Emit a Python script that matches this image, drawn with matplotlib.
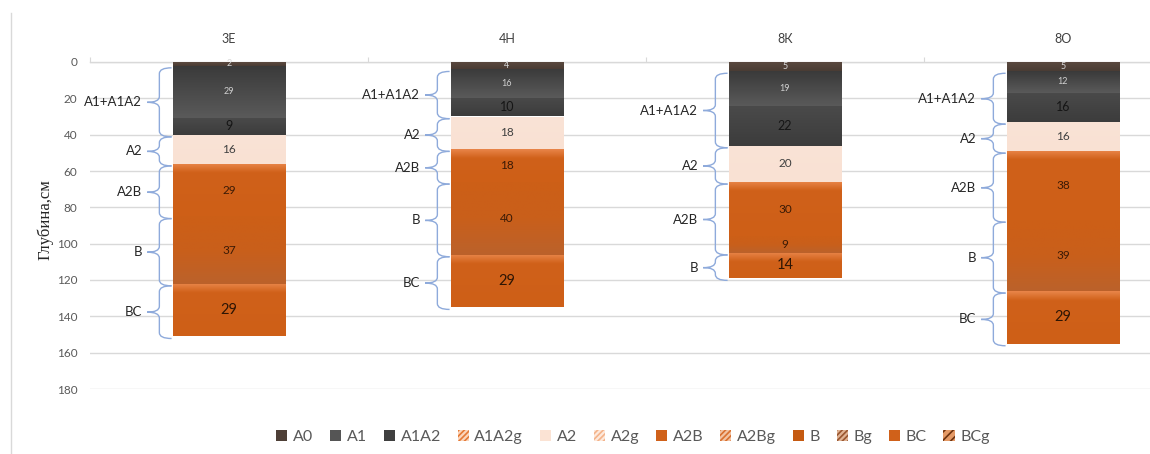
import numpy as np
import matplotlib
matplotlib.use("Agg")
import matplotlib.pyplot as plt
from matplotlib.patches import Patch, PathPatch
from matplotlib.path import Path
from matplotlib.lines import Line2D
from matplotlib.colors import to_rgb

plt.rcParams['font.family'] = ['Lato', 'DejaVu Sans']

# ---- data -------------------------------------------------------------
profiles = ['3Е', '4Н', '8К', '8О']

horizons = ['A0', 'A1', 'A1A2', 'A2', 'A2B', 'B', 'BC']
A0 = [2, 4, 5, 5]
A1 = [29, 16, 19, 12]
A1A2 = [9, 10, 22, 16]
A2 = [16, 18, 20, 16]
A2B = [29, 18, 30, 38]
B = [37, 40, 9, 39]
BC = [29, 29, 14, 29]

legend_names = ['A0', 'A1', 'A1A2', 'A1A2g', 'A2', 'A2g',
                'A2B', 'A2Bg', 'B', 'Bg', 'BC', 'BCg']

# horizon groups marked with a brace: (label, layers covered)
braces_3E = [('A1+A1A2', ['A1', 'A1A2']), ('A2', ['A2']), ('A2B', ['A2B']),
             ('B', ['B']), ('BC', ['BC'])]
braces_4N = [('A1+A1A2', ['A1', 'A1A2']), ('A2', ['A2']), ('A2B', ['A2B']),
             ('B', ['B']), ('BC', ['BC'])]
braces_8K = [('A1+A1A2', ['A1', 'A1A2']), ('A2', ['A2']), ('A2B', ['A2B', 'B']),
             ('B', ['BC'])]
braces_8O = [('A1+A1A2', ['A1', 'A1A2']), ('A2', ['A2']), ('A2B', ['A2B']),
             ('B', ['B']), ('BC', ['BC'])]
brace_sets = [braces_3E, braces_4N, braces_8K, braces_8O]

values = {'A0': A0, 'A1': A1, 'A1A2': A1A2, 'A2': A2,
          'A2B': A2B, 'B': B, 'BC': BC}

# ---- styles -------------------------------------------------------------
base_color = {'A0': '#54443b', 'A1': '#4a4a4a', 'A1A2': '#424242',
              'A2': '#fae3d6', 'A2B': '#d0611a', 'B': '#cb5f19', 'BC': '#d0611a'}


def gradient_stops(name, h):
    band = min(0.5, 5.0 / h)
    if name == 'A1':
        return [(0, '#3a3a3a'), (1, '#5a5a5a')]
    if name == 'A1A2':
        return [(0, '#4a4a4a'), (1, '#3c3c3c')]
    if name == 'A0':
        return [(0, '#5c4a40'), (1, '#4a3c34')]
    if name == 'A2':
        return [(0, '#fae3d6'), (1, '#f9e1d3')]
    if name in ('A2B', 'BC'):
        return [(0, '#e98549'), (band, '#d0611a'), (1, '#ce5f17')]
    if name == 'B':
        return [(0, '#cd5f17'), (0.5, '#c95f1b'), (1, '#bb622b')]
    return [(0, base_color[name]), (1, base_color[name])]


label_style = {'A0': (6.5, '#d8d8d8'), 'A1': (6.5, '#d0d0d0'),
               'A1A2': (9, '#151515'), 'A2': (8.5, '#404040'),
               'A2B': (8.5, '#3a1a06'), 'B': (8.5, '#3a1a06'),
               'BC': (10.5, '#2e1504')}

legend_style = {
    'A0': dict(facecolor='#4e3f37'),
    'A1': dict(facecolor='#555555'),
    'A1A2': dict(facecolor='#3f3f3f'),
    'A1A2g': dict(facecolor='#fbd6bd', edgecolor='#e57a36', hatch='//////'),
    'A2': dict(facecolor='#fbe3d4'),
    'A2g': dict(facecolor='#fde9dc', edgecolor='#f4b38a', hatch='//////'),
    'A2B': dict(facecolor='#d0611a'),
    'A2Bg': dict(facecolor='#f2c3a3', edgecolor='#d9702f', hatch='//////'),
    'B': dict(facecolor='#c55a11'),
    'Bg': dict(facecolor='#e0b394', edgecolor='#995630', hatch='//////'),
    'BC': dict(facecolor='#d0611a'),
    'BCg': dict(facecolor='#e59a66', edgecolor='#6e320e', hatch='////'),
}

BRACE_COLOR = '#8eaadb'
GRID_COLOR = '#d9d9d9'
TEXT_COLOR = '#404040'

# ---- figure -------------------------------------------------------------
W, H = 1150, 454
fig = plt.figure(figsize=(W / 100, H / 100), dpi=100)
ax = fig.add_axes([90 / W, (H - 389) / H, (1202 - 90) / W, (389 - 62) / H])

x = np.arange(len(profiles))
bar_w = 0.405
bottom = np.zeros(len(profiles))
seg_top = {}


def gradient_image(stops, n=96):
    pos = np.array([s[0] for s in stops])
    cols = np.array([to_rgb(s[1]) for s in stops])
    t = np.linspace(0, 1, n)
    img = np.stack([np.interp(t, pos, cols[:, k]) for k in range(3)], axis=-1)
    return img[:, None, :]


for name in horizons:
    vals = np.array(values[name], dtype=float)
    bars = ax.bar(x, vals, bar_w, bottom=bottom, color=base_color[name],
                  linewidth=0, zorder=2)
    seg_top[name] = bottom.copy()
    for rect, v, b0 in zip(bars, vals, bottom):
        if v <= 0:
            continue
        x0, w = rect.get_x(), rect.get_width()
        im = ax.imshow(gradient_image(gradient_stops(name, v)),
                       extent=(x0, x0 + w, b0 + v, b0), origin='upper',
                       aspect='auto', interpolation='bilinear', zorder=3)
        im.set_clip_path(rect)
        size, col = label_style[name]
        ax.text(rect.get_x() + w / 2, b0 + v / 2, f'{int(v)}',
                ha='center', va='center', fontsize=size, color=col, zorder=5)
    bottom = bottom + vals


# ---- braces -------------------------------------------------------------
def draw_brace(ax, xr, y0, y1, width, r=3.2):
    xs = xr - width / 2
    xt = xr - width
    ym = (y0 + y1) / 2
    r = min(r, (y1 - y0) / 4)
    verts = [(xr, y0), (xs, y0), (xs, y0 + r), (xs, ym - r),
             (xs, ym), (xt, ym), (xs, ym), (xs, ym + r),
             (xs, y1 - r), (xs, y1), (xr, y1)]
    codes = [Path.MOVETO, Path.CURVE3, Path.CURVE3, Path.LINETO,
             Path.CURVE3, Path.CURVE3, Path.CURVE3, Path.CURVE3,
             Path.LINETO, Path.CURVE3, Path.CURVE3]
    ax.add_patch(PathPatch(Path(verts, codes), fill=False, edgecolor=BRACE_COLOR,
                           linewidth=1.0, zorder=4, clip_on=False))
    return xt, ym


brace_w = 0.088
for i, groups in enumerate(brace_sets):
    xr = x[i] - bar_w / 2 - 0.004
    for label, layers in groups:
        y0 = seg_top[layers[0]][i]
        last = layers[-1]
        y1 = seg_top[last][i] + values[last][i]
        xt, ym = draw_brace(ax, xr, y0 + 1.2, y1 + 1.2, brace_w)
        ax.text(xt - 0.018, ym, label, ha='right', va='center',
                fontsize=9.5, color='#262626', zorder=5)

# ---- axes ---------------------------------------------------------------
ax.set_xlim(-0.5, len(profiles) - 0.5)
ax.set_ylim(180, 0)
ax.set_yticks(np.arange(0, 181, 20))
ax.yaxis.grid(True, color=GRID_COLOR, linewidth=1.0, zorder=0)
ax.set_axisbelow(True)
ax.tick_params(axis='y', length=0, pad=9, labelsize=8.5, labelcolor='#595959')

ax.xaxis.tick_top()
ax.set_xticks(x)
ax.set_xticklabels(profiles)
ax.set_xticks(np.arange(-0.5, len(profiles), 1.0), minor=True)
ax.tick_params(axis='x', which='major', length=0, pad=12, labelsize=9,
               labelcolor=TEXT_COLOR)
ax.tick_params(axis='x', which='minor', length=3.5, width=0.8, color=GRID_COLOR,
               direction='out')
for side in ('left', 'right', 'bottom'):
    ax.spines[side].set_visible(False)
ax.spines['top'].set_color(GRID_COLOR)
ax.spines['top'].set_linewidth(1.0)

fig.text(45 / W, 1 - 220 / H, 'Глубина,см', rotation=90, ha='center',
         va='center', fontsize=12, color='#262626',
         family=['Liberation Serif', 'DejaVu Serif'])

# chart frame edge
fig.add_artist(Line2D([11 / W, 11 / W], [0, 1 - 13 / H], color='#d9d9d9',
                      linewidth=1.0))

# ---- legend -------------------------------------------------------------
handles = []
for name in legend_names:
    st = dict(legend_style[name])
    if 'hatch' not in st:
        st['edgecolor'] = st['facecolor']
    handles.append(Patch(linewidth=0, label=name, **st))
plt.rcParams['hatch.linewidth'] = 1.2
fig.legend(handles=handles, loc='center', bbox_to_anchor=(633 / W, 1 - 437 / H),
           ncol=len(handles), frameon=False, fontsize=11.5,
           labelcolor='#595959', handlelength=0.7, handleheight=0.7,
           handletextpad=0.35, columnspacing=1.05, borderaxespad=0)

fig.savefig('out.png', dpi=100)
